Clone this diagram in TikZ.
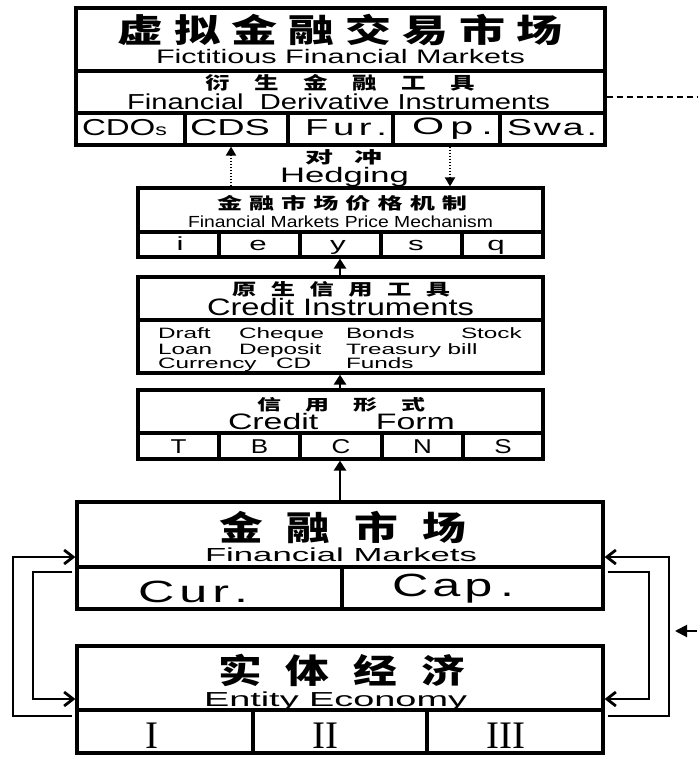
\documentclass[tikz,border=0pt]{standalone}
\usepackage{fontspec}
\usepackage{graphicx}
\setmainfont{Liberation Sans}
\newfontfamily\cjkfont{Noto Sans CJK SC Black}
\newfontfamily\romfont{Liberation Serif}
\usetikzlibrary{arrows.meta,calc}
\makeatletter
\newcommand\cjkspaced[2]{{\cjkfont\def\cjk@sep{}\@tfor\cjk@c:=#2\do{\cjk@sep\cjk@c\def\cjk@sep{\hspace{#1em}}}}}
\makeatother
% CJK ink spans about -0.08em .. 0.84em
\newcommand\cjkfit[4]{\resizebox*{#1pt}{#2pt}{\smash{\cjkspaced{#3}{#4}}\rule[-0.08em]{0pt}{0.92em}}}
% Latin text: height fixed to the cap height 0.716em
\newcommand\enfit[3]{\resizebox{#1pt}{#2pt}{\smash{#3}\rule{0pt}{0.716em}}}
\newcommand\listw[1]{\scalebox{1.62}[1]{\fontsize{15}{15}\selectfont #1}}
\newcommand\cella[1]{\scalebox{1.65}[1]{\fontsize{19}{19}\selectfont #1}}
\newcommand\cellb[1]{\scalebox{1.3}[1]{\fontsize{20}{20}\selectfont #1}}
\newcommand\romn[1]{{\romfont\fontsize{39}{39}\selectfont #1}}
\begin{document}
\begin{tikzpicture}[x=1pt,y=-1pt,
  box/.style={draw, rectangle, line width=3.2pt, inner sep=0pt},
  divider/.style={line width=3.2pt},
  txt/.style={inner sep=0pt, outer sep=0pt},
  solidarrow/.style={line width=2.8pt, -{Triangle[length=10pt,width=12pt]}},
  dotarrow/.style={line width=1.8pt, dash pattern=on 1.6pt off 1.4pt, -{Triangle[length=9pt,width=10pt]}},
  loopline/.style={line width=2.8pt, -{Straight Barb[length=9pt,width=14pt]}},
  dashline/.style={line width=2.6pt, dash pattern=on 6pt off 4pt},
  edgearrow/.style={line width=2pt, -{Triangle[length=12pt,width=12pt]}}]
\fill[white] (0,0) rectangle (697,760);
\useasboundingbox (0,0) rectangle (697,760);

% boxes
\node[box, minimum width=529pt, minimum height=137pt] (T) at (340.5,76.5) {};
\node[box, minimum width=405pt, minimum height=69pt] (P) at (340.5,222.5) {};
\node[box, minimum width=405pt, minimum height=96pt] (C) at (340.5,325) {};
\node[box, minimum width=405pt, minimum height=69pt] (F) at (340.5,424.5) {};
\node[box, minimum width=526pt, minimum height=107pt] (M) at (340,555.5) {};
\node[box, minimum width=526pt, minimum height=107pt] (E) at (340,699.5) {};

% dividers
\draw[divider] (76,71) -- (605,71) (76,113) -- (605,113);
\foreach \x in {185,288,393,500} \draw[divider] (\x,113) -- (\x,145);
\draw[divider] (138,232) -- (543,232);
\foreach \x in {219,300,381,462} \draw[divider] (\x,232) -- (\x,257);
\draw[divider] (138,320) -- (543,320);
\draw[divider] (138,433) -- (543,433);
\foreach \x in {219,300,382,463} \draw[divider] (\x,433) -- (\x,459);
\draw[divider] (77,567) -- (603,567) (342,567) -- (342,609);
\draw[divider] (77,710) -- (603,710);
\foreach \x in {253,427} \draw[divider] (\x,710) -- (\x,753);

% top box texts
\node[txt, anchor=north west] (t1) at (117,15) {\cjkfit{445}{30}{0.24}{虚拟金融交易市场}};
\node[txt, anchor=base west] (t2) at (156,64) {\enfit{369}{14}{Fictitious Financial Markets}};
\node[txt, anchor=north west] (t3) at (205,75) {\cjkfit{270}{16}{1.0}{衍生金融工具}};
\node[txt, anchor=base west] (t4) at (127,109) {\enfit{423}{15.5}{Financial\ \ Derivative Instruments}};
\node[txt, anchor=base west] (c1) at (82,135) {\enfit{85}{16.5}{CDO{\fontsize{7}{7}\selectfont s}}};
\node[txt, anchor=base west] (c2) at (190,135) {\enfit{80}{16.5}{CDS}};
\node[txt, anchor=base west] (c3) at (305,135) {\enfit{82}{16.5}{F\kern.12em u\kern.12em r\kern.12em.}};
\node[txt, anchor=base west] (c4) at (412,134) {\enfit{81}{17}{O\kern.15em p\kern.2em.}};
\node[txt, anchor=base west] (c5) at (507,135) {\enfit{90}{16.5}{S\kern.05em w\kern.05em a\kern.08em.}};

% hedging
\node[txt, anchor=north west] (h1) at (305,150) {\cjkfit{77}{15}{0.75}{对冲}};
\node[txt, anchor=base west] (h2) at (280,182) {\enfit{129}{15}{Hedging}};

% price mechanism
\node[txt, anchor=north west] (p1) at (217,196) {\cjkfit{250}{15}{0.28}{金融市场价格机制}};
\node[txt, anchor=base west] (p2) at (188,227) {\enfit{305}{11.5}{Financial Markets Price Mechanism}};
\node[txt, anchor=base] (pa) at (180,250) {\cella{i}};
\node[txt, anchor=base] (pb) at (258,250) {\cella{e}};
\node[txt, anchor=base] (pc) at (338,250) {\cella{y}};
\node[txt, anchor=base] (pd) at (416,250) {\cella{s}};
\node[txt, anchor=base] (pe) at (496,250) {\cella{q}};

% credit instruments
\node[txt, anchor=north west] (r1) at (232,282) {\cjkfit{218}{15}{0.6}{原生信用工具}};
\node[txt, anchor=base west] (r2) at (207,315) {\enfit{267}{17}{Credit Instruments}};
\node[txt, anchor=base west] (w1) at (158,338) {\listw{Draft}};
\node[txt, anchor=base west] (w2) at (239,338) {\listw{Cheque}};
\node[txt, anchor=base west] (w3) at (346,338) {\listw{Bonds}};
\node[txt, anchor=base west] (w4) at (461,338) {\listw{Stock}};
\node[txt, anchor=base west] (w5) at (158,354) {\listw{Loan}};
\node[txt, anchor=base west] (w6) at (239,354) {\listw{Deposit}};
\node[txt, anchor=base west] (w7) at (346,354) {\listw{Treasury bill}};
\node[txt, anchor=base west] (w8) at (158,368) {\listw{Currency}};
\node[txt, anchor=base west] (w9) at (276,368) {\listw{CD}};
\node[txt, anchor=base west] (w10) at (346,368) {\listw{Funds}};

% credit form
\node[txt, anchor=north west] (f1) at (257,398) {\cjkfit{168}{14}{1.0}{信用形式}};
\node[txt, anchor=base west] (f2) at (228,429) {\enfit{227}{16}{Credit\hspace{1.7em}Form}};
\node[txt, anchor=base] (fa) at (178.5,453) {\cellb{T}};
\node[txt, anchor=base] (fb) at (259.5,453) {\cellb{B}};
\node[txt, anchor=base] (fc) at (341,453) {\cellb{C}};
\node[txt, anchor=base] (fd) at (422.5,453) {\cellb{N}};
\node[txt, anchor=base] (fe) at (503,453) {\cellb{S}};

% financial markets
\node[txt, anchor=north west] (m1) at (219,512) {\cjkfit{247}{31}{0.55}{金融市场}};
\node[txt, anchor=base west] (m2) at (205,561) {\enfit{272}{13.5}{Financial Markets}};
\node[txt, anchor=base west] (m3) at (138,602) {\enfit{110}{22}{C\kern.1em u\kern.1em r\kern.1em.}};
\node[txt, anchor=base west] (m4) at (392,596) {\enfit{122}{23}{C\kern.08em a\kern.08em p\kern.15em.}};

% entity economy
\node[txt, anchor=north west] (e1) at (218,655) {\cjkfit{247}{31}{0.55}{实体经济}};
\node[txt, anchor=base west] (e2) at (204,706) {\enfit{263}{14.5}{Entity Economy}};
\node[txt, anchor=base] (ea) at (152,748) {\romn{I}};
\node[txt, anchor=base] (eb) at (325,748) {\romn{II}};
\node[txt, anchor=base] (ec) at (506,748) {\romn{III}};

% coordinates for connectors
\coordinate (xc) at (340,0);
\coordinate (hx1) at (231,0);
\coordinate (hx2) at (450,0);
\coordinate (dR) at (697,97);
\coordinate (aR) at (697,631);
\coordinate (aT) at (675,631);
\coordinate (yA) at (0,716);
\coordinate (yB) at (0,557);
\coordinate (yC) at (0,572);
\coordinate (yD) at (0,699);
\coordinate (xL1) at (13,0);
\coordinate (xL2) at (33,0);
\coordinate (xR1) at (669,0);
\coordinate (xR2) at (649,0);

% vertical arrows
\draw[solidarrow] (M.north -| xc) -- (F.south -| xc);
\draw[solidarrow] (F.north -| xc) -- (C.south -| xc);
\draw[solidarrow] (C.north -| xc) -- (P.south -| xc);

% hedging arrows
\draw[dotarrow] (P.north -| hx1) -- (T.south -| hx1);
\draw[dotarrow] (T.south -| hx2) -- (P.north -| hx2);

% off-page connector ends
\draw[dashline] (T.east |- dR) -- (dR);
\draw[edgearrow] (aR) -- (aT);

% loops
\draw[loopline] ($(E.west |- yA)+(-3,0)$) -| (xL1 |- yB) -- (M.west |- yB);
\draw[loopline] ($(M.west |- yC)+(-3,0)$) -| (xL2 |- yD) -- (E.west |- yD);
\draw[loopline] ($(E.east |- yA)+(3,0)$) -| (xR1 |- yB) -- (M.east |- yB);
\draw[loopline] ($(M.east |- yC)+(3,0)$) -| (xR2 |- yD) -- (E.east |- yD);
\end{tikzpicture}
\end{document}
